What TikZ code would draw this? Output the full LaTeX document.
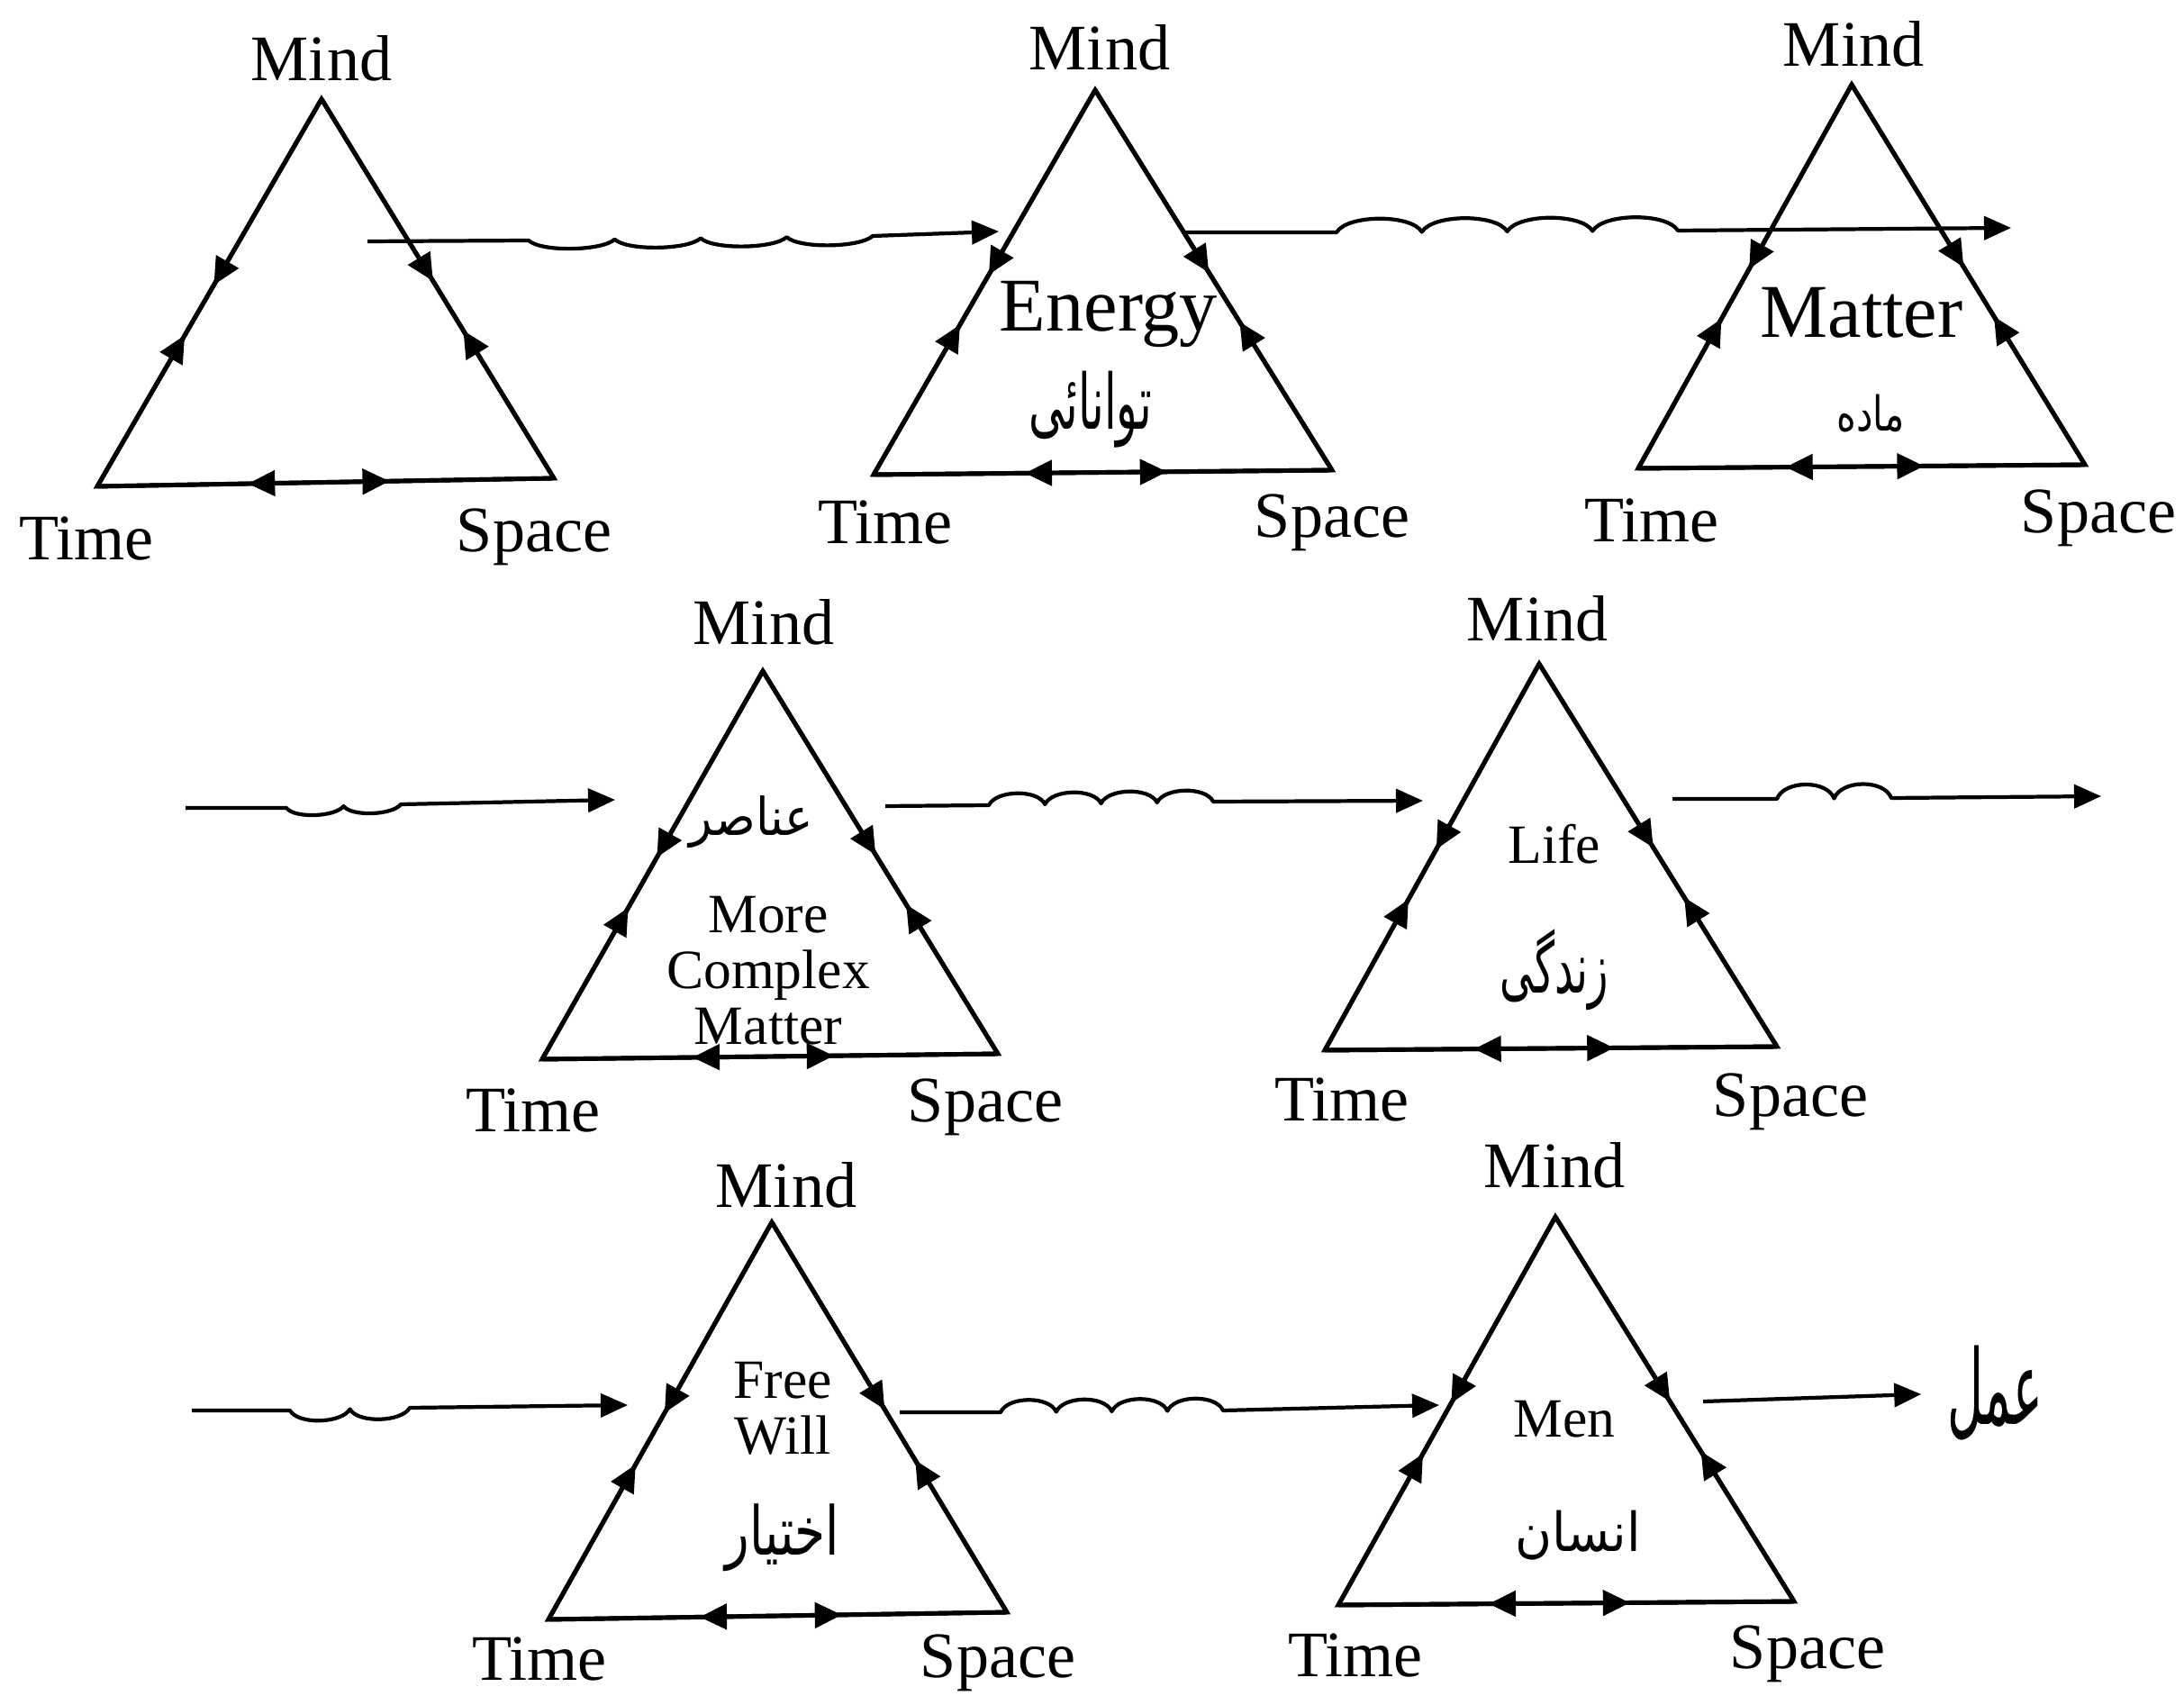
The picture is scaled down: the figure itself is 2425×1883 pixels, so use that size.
\documentclass[tikz,border=0pt]{standalone}
\usepackage{fontspec}
\setmainfont{Liberation Serif}
\newfontfamily\urdufont[Script=Arabic]{DejaVu Sans}
\TeXXeTstate=1
\usetikzlibrary{arrows.meta,decorations.markings}
\tikzset{
  sidetip/.tip={Triangle[length=0.3cm,width=0.28cm]},
  edge/.style={line width=1.4pt, line join=miter},
  sidemarks/.style={line width=1.4pt, postaction=decorate,
    decoration={markings,
      mark=at position 0.48 with {\arrow{sidetip}},
      mark=at position 0.61 with {\arrowreversed{sidetip}}}},
  basemarks/.style={line width=1.4pt, postaction=decorate,
    decoration={markings,
      mark=at position 0.33 with {\arrowreversed{sidetip}},
      mark=at position 0.64 with {\arrow{sidetip}}}},
  flow/.style={line width=1.2pt, line join=round, -{Triangle[length=0.3cm,width=0.26cm]}},
  vlabel/.style={font=\fontsize{20.5}{22}\selectfont, inner sep=0pt},
  biglabel/.style={font=\fontsize{24}{26}\selectfont, inner sep=0pt},
  smalllabel/.style={font=\fontsize{17.5}{17.6}\selectfont, inner sep=0pt, align=center},
  urdu/.style={font=\urdufont\fontsize{20}{22}\selectfont, inner sep=0pt},
}
\newcommand\mytriangle[4]{%
  \coordinate (#1a) at (#2);
  \coordinate (#1l) at (#3);
  \coordinate (#1r) at (#4);
  \draw[edge] (#1a) -- (#1l) -- (#1r) -- cycle;
  \draw[sidemarks] (#1a) -- (#1l);
  \draw[sidemarks] (#1a) -- (#1r);
  \draw[basemarks] (#1l) -- (#1r);
}
\newcommand\urduword[3]{\resizebox*{#1}{#2}{\beginR #3\endR}}
\begin{document}
\begin{tikzpicture}[x=0.01cm,y=-0.01cm]
\useasboundingbox (0,0) rectangle (2425,1883);

% ---------- triangles ----------
\mytriangle{t1}{357,110}{108,540}{615,531}
\mytriangle{t2}{1216,100}{970,527}{1479,522}
\mytriangle{t3}{2056,94}{1819,520}{2315,516}
\mytriangle{t4}{847,745}{602,1176}{1108,1170}
\mytriangle{t5}{1709,737}{1471,1166}{1973,1162}
\mytriangle{t6}{857,1357}{609,1798}{1118,1790}
\mytriangle{t7}{1727,1351}{1486,1782}{1992,1778}

% ---------- vertex labels ----------
\node[vlabel] (m1) at (357,65) {Mind};
\node[vlabel] (ti1) at (96,598) {Time};
\node[vlabel] (sp1) at (593,596) {Space};

\node[vlabel] (m2) at (1221,53) {Mind};
\node[vlabel] (ti2) at (983,580) {Time};
\node[vlabel] (sp2) at (1479,580) {Space};

\node[vlabel] (m3) at (2058,49) {Mind};
\node[vlabel] (ti3) at (1834,578) {Time};
\node[vlabel] (sp3) at (2330,575) {Space};

\node[vlabel] (m4) at (848,691) {Mind};
\node[vlabel] (ti4) at (592,1233) {Time};
\node[vlabel] (sp4) at (1094,1229) {Space};

\node[vlabel] (m5) at (1707,687) {Mind};
\node[vlabel] (ti5) at (1490,1221) {Time};
\node[vlabel] (sp5) at (1988,1223) {Space};

\node[vlabel] (m6) at (873,1316) {Mind};
\node[vlabel] (ti6) at (599,1842) {Time};
\node[vlabel] (sp6) at (1108,1846) {Space};

\node[vlabel] (m7) at (1726,1294) {Mind};
\node[vlabel] (ti7) at (1505,1838) {Time};
\node[vlabel] (sp7) at (2007,1836) {Space};

% ---------- inner labels ----------
\node[biglabel] (en) at (1231,349) {Energy};
\node[urdu] (u2) at (1211,455) {\urduword{1.36cm}{0.85cm}{توانائی}};

\node[biglabel] (ma) at (2067,347) {Matter};
\node[urdu] (u3) at (2077,459) {\urduword{0.75cm}{0.42cm}{ماده}};

\node[urdu] (u4) at (834,913) {\urduword{1.37cm}{0.58cm}{عناصر}};
\node[smalllabel] (cm) at (853,1078) {More\\Complex\\Matter};

\node[smalllabel] (li) at (1726,937) {Life};
\node[urdu] (u5) at (1726,1077) {\urduword{1.2cm}{0.9cm}{زندگی}};

\node[smalllabel] (fw) at (869,1564) {Free\\Will};
\node[urdu] (u6) at (869,1707) {\urduword{1.26cm}{0.75cm}{اختیار}};

\node[smalllabel] (mn) at (1737,1576) {Men};
\node[urdu] (u7) at (1752,1705) {\urduword{1.39cm}{0.55cm}{انسان}};

% ---------- wavy connectors ----------
\coordinate (s1) at (408,268);  \coordinate (w1a) at (587,267);  \coordinate (e1) at (1109,257);
\draw[flow] (s1) -- (w1a)
  foreach \k in {1,...,4} { .. controls +(14,13) and +(-14,13) .. ++(95.5,-1.25) } -- (e1);

\coordinate (s2) at (1313,258); \coordinate (w2a) at (1484,258); \coordinate (e2) at (2233,253);
\draw[flow] (s2) -- (w2a)
  foreach \k in {1,...,4} { .. controls +(12,-20) and +(-12,-20) .. ++(94.75,-0.5) } -- (e2);

\coordinate (s3) at (206,897);  \coordinate (w3a) at (318,897);  \coordinate (e3) at (683,888);
\draw[flow] (s3) -- (w3a)
  foreach \k in {1,...,2} { .. controls +(9,12) and +(-9,12) .. ++(63.5,-2) } -- (e3);

\coordinate (s4) at (983,895);  \coordinate (w4a) at (1098,894); \coordinate (e4) at (1580,889);
\draw[flow] (s4) -- (w4a)
  foreach \k in {1,...,4} { .. controls +(8,-17) and +(-8,-17) .. ++(62.25,-1) } -- (e4);

\coordinate (s5) at (1857,887); \coordinate (w5a) at (1973,887); \coordinate (e5) at (2333,884);
\draw[flow] (s5) -- (w5a)
  foreach \k in {1,...,2} { .. controls +(8,-21) and +(-8,-21) .. ++(63.5,-0.5) } -- (e5);

\coordinate (s6) at (213,1566); \coordinate (w6a) at (322,1566); \coordinate (e6) at (697,1560);
\draw[flow] (s6) -- (w6a)
  foreach \k in {1,...,2} { .. controls +(9,16) and +(-9,16) .. ++(66.5,-1.5) } -- (e6);

\coordinate (s7) at (999,1568); \coordinate (w7a) at (1111,1568); \coordinate (e7) at (1598,1560);
\draw[flow] (s7) -- (w7a)
  foreach \k in {1,...,4} { .. controls +(8,-18) and +(-8,-18) .. ++(61.75,-0.5) } -- (e7);

\coordinate (s8) at (1891,1556);
\node[urdu] (amal) at (2215,1547) {\urduword{1.06cm}{1.05cm}{عمل}};
\draw[flow, shorten >=0.28cm] (s8) -- (amal.west);
\end{tikzpicture}
\end{document}
